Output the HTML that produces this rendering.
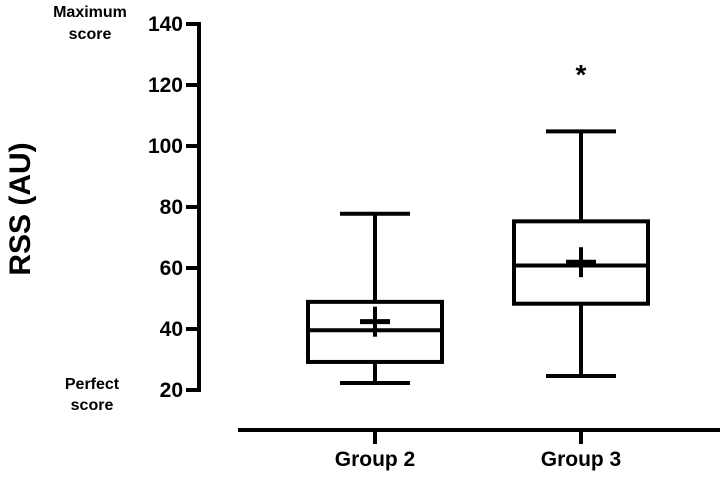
<!DOCTYPE html>
<html><head><meta charset="utf-8"><style>
body{margin:0;background:#fff}
svg text{font-family:"Liberation Sans",Arial,sans-serif;font-weight:bold;fill:#000}
</style></head><body>
<svg id="chart" width="720" height="473" viewBox="0 0 720 473" xmlns="http://www.w3.org/2000/svg">
<g id="axes"></g>
<g id="boxes"></g>
<text transform="translate(30,209) rotate(-90)" text-anchor="middle" font-size="30">RSS (AU)</text>
<text x="90" y="17" text-anchor="middle" font-size="16">Maximum</text>
<text x="90" y="39" text-anchor="middle" font-size="16">score</text>
<text x="92" y="389" text-anchor="middle" font-size="16">Perfect</text>
<text x="92" y="410" text-anchor="middle" font-size="16">score</text>
</svg>
<script>
const categories = ["Group 2", "Group 3"];
const mins = [22.3, 24.6];
const q1s = [29.2, 48.3];
const medians = [39.6, 60.8];
const q3s = [48.9, 75.3];
const maxs = [77.8, 104.8];
const means = [42.4, 61.9];
const significance = ["", "*"];
const yTicks = [20, 40, 60, 80, 100, 120, 140];

const NS = "http://www.w3.org/2000/svg";
function y(v){ return 390 - (v - 20) * 3.05; }
const xCenters = [375, 581];
function x(i){ return xCenters[i]; }
function mk(parent, tag, attrs){
  const el = document.createElementNS(NS, tag);
  for (const k in attrs) el.setAttribute(k, attrs[k]);
  parent.appendChild(el);
  return el;
}
const axes = document.getElementById('axes');
const boxes = document.getElementById('boxes');
let l = mk(axes, 'line', {x1:199, y1:y(140), x2:199, y2:y(20)+2, stroke:'#000','stroke-width':4});


yTicks.forEach(t => {
  const tk = mk(axes, 'line', {x1:186, y1:y(t), x2:201, y2:y(t), stroke:'#000','stroke-width':4});
  
  
  const tx = mk(axes, 'text', {x:183, y:y(t)+7, 'text-anchor':'end', 'font-size':21});
  tx.textContent = t;
  
  
});
const xl = mk(axes, 'line', {x1:238, y1:430, x2:720, y2:430, stroke:'#000','stroke-width':4});


categories.forEach((c, i) => {
  const cx = x(i);
  const tk = mk(axes, 'line', {x1:cx, y1:430, x2:cx, y2:444, stroke:'#000','stroke-width':4});
  
  
  const tx = mk(axes, 'text', {x:cx, y:466, 'text-anchor':'middle', 'font-size':21});
  tx.textContent = c;
  
  

  const g = mk(boxes, 'g', {});
  
  
  const hw = 67, cw = 35, st = {stroke:'#000','stroke-width':4, fill:'none'};
  mk(g, 'line', Object.assign({x1:cx, y1:y(maxs[i]), x2:cx, y2:y(q3s[i])}, st));
  mk(g, 'line', Object.assign({x1:cx, y1:y(q1s[i]), x2:cx, y2:y(mins[i])}, st));
  mk(g, 'line', Object.assign({x1:cx-cw, y1:y(maxs[i]), x2:cx+cw, y2:y(maxs[i])}, st));
  mk(g, 'line', Object.assign({x1:cx-cw, y1:y(mins[i]), x2:cx+cw, y2:y(mins[i])}, st));
  mk(g, 'rect', Object.assign({x:cx-hw, y:y(q3s[i]), width:hw*2, height:y(q1s[i])-y(q3s[i])}, st));
  mk(g, 'line', Object.assign({x1:cx-hw, y1:y(medians[i]), x2:cx+hw, y2:y(medians[i])}, st));
  const m1 = mk(g, 'line', {x1:cx-15, y1:y(means[i]), x2:cx+15, y2:y(means[i]), stroke:'#000','stroke-width':5});
  
  
  mk(g, 'line', {x1:cx, y1:y(means[i])-15, x2:cx, y2:y(means[i])+15, stroke:'#000','stroke-width':4});
  if (significance[i]) {
    const s = mk(g, 'text', {x:cx, y:y(125)+14, 'text-anchor':'middle', 'font-size':28});
    s.textContent = significance[i];
    
    
  }
});
</script>
</body></html>
